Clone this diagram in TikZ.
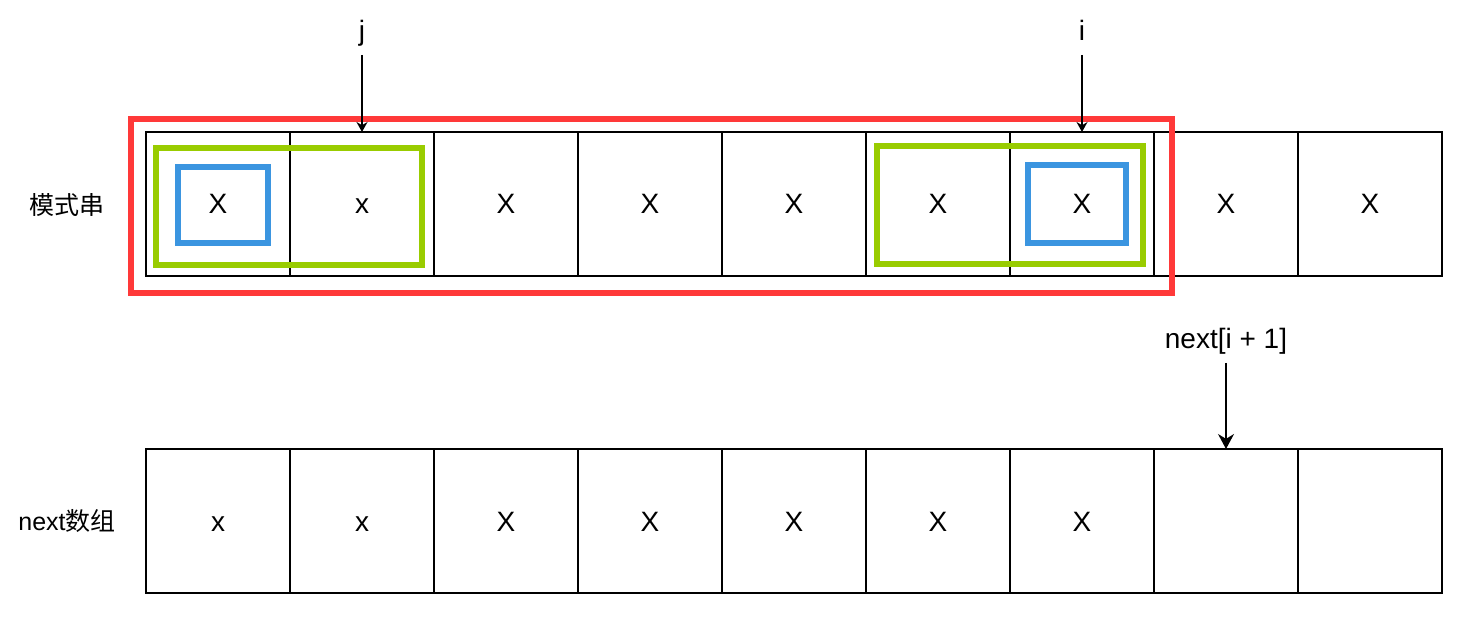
\documentclass[tikz,border=0pt]{standalone}
\usepackage{fontspec}
\setmainfont{Liberation Sans}
\newfontfamily\cjk{Noto Sans CJK SC}
\usepackage{tikz}
\usepackage{xcolor}
\usetikzlibrary{arrows.meta}
\definecolor{boxred}{HTML}{FF3939}
\definecolor{boxgreen}{HTML}{99CC00}
\definecolor{boxblue}{HTML}{3B95E0}
\tikzset{
  cell/.style={draw,rectangle,line width=0.75pt,minimum width=72pt,minimum height=72pt,outer sep=0pt,text height=10pt,text depth=0pt,font=\fontsize{14}{17}\selectfont},
  lbl/.style={inner sep=4pt,text depth=3pt,font=\fontsize{14}{17}\selectfont},
  side/.style={font=\fontsize{12.5}{15}\selectfont},
  ptr/.style={-{Stealth[length=5pt,width=5.5pt]},line width=0.7pt},
  bigptr/.style={-{Stealth[length=7.5pt,width=8pt]},line width=0.7pt}
}
\begin{document}
\begin{tikzpicture}[x=0.5pt,y=-0.5pt]
\useasboundingbox (0,0) rectangle (1461,619);
\foreach \t [count=\k] in {X,x,X,X,X,X,X,X,X}
  \node[cell] (p\k) at ({218+144*(\k-1)},204) {\t};
\foreach \t [count=\k] in {x,x,X,X,X,X,X,{},{}}
  \node[cell] (n\k) at ({218+144*(\k-1)},521) {\t};
\node[side] (pat) at (67,205) {\cjk 模式串};
\node[side] (nxt) at (67,521) {next\cjk 数组};
% highlight boxes
\draw[boxred,line width=3.3pt] (131,119) rectangle (1172,293);
\draw[boxgreen,line width=3pt] (156,148) rectangle (422,265);
\draw[boxgreen,line width=3pt] (877,146) rectangle (1143,264);
\draw[boxblue,line width=3pt] (178,167) rectangle (268,243);
\draw[boxblue,line width=3pt] (1028,165) rectangle (1126,243);
% pointers
\node[lbl,anchor=south,yshift=38.5pt] (jlab) at (p2.north) {j};
\node[lbl,anchor=south,yshift=38.5pt] (ilab) at (p7.north) {i};
\node[lbl,anchor=south,yshift=43pt] (nlab) at (n8.north) {next[i + 1]};
\draw[ptr] (jlab) -- (p2);
\draw[ptr] (ilab) -- (p7);
\draw[bigptr] (nlab) -- (n8);
\end{tikzpicture}
\end{document}
